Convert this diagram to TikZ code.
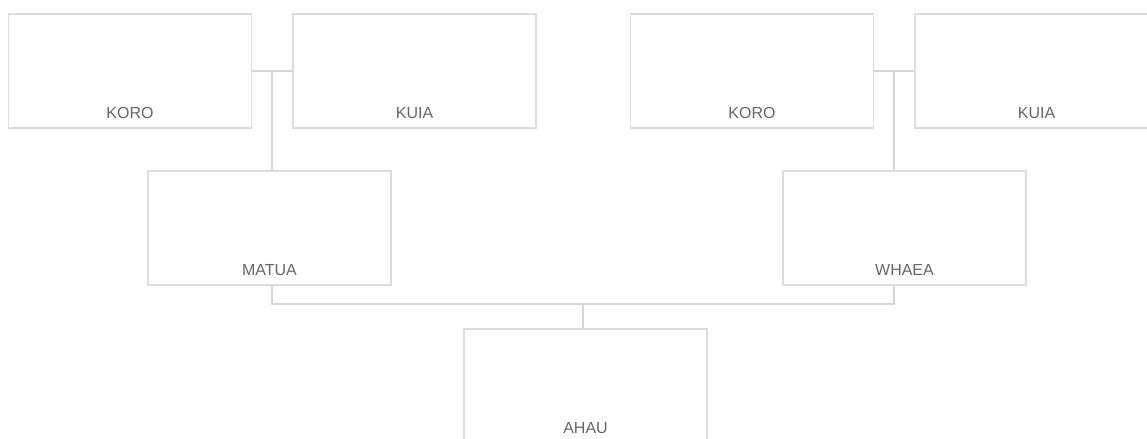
\documentclass[tikz,border=0pt]{standalone}
\usepackage{fontspec}
\setmainfont{Liberation Sans}
\usetikzlibrary{calc}
\definecolor{boxline}{HTML}{DCDCDC}
\definecolor{connline}{HTML}{D6D6D6}
\definecolor{labtext}{HTML}{666666}
\tikzset{
  person/.style={draw=boxline, line width=1.1pt, fill=white, minimum width=182.5pt, minimum height=85.5pt, inner sep=0pt},
  lab/.style={anchor=base, yshift=7.5pt, text=labtext, font=\fontsize{12pt}{14pt}\selectfont, inner sep=0pt},
  conn/.style={draw=connline, line width=1.5pt}
}
\begin{document}
\begin{tikzpicture}[x=0.75pt, y=-0.75pt]
\useasboundingbox (0,0) rectangle (1147,439);
\clip (0,0) rectangle (1147,439);
\fill[white] (0,0) rectangle (1147,439);
% grandparents
\node[person, label={[lab, name=t1]south:KORO}] (korol) at (130,71) {};
\node[person, label={[lab, name=t2]south:KUIA}] (kuial) at (414.5,71) {};
\node[person, label={[lab, name=t3]south:KORO}] (koror) at (752,71) {};
\node[person, label={[lab, name=t4]south:KUIA}] (kuiar) at (1036.5,71) {};
% parents
\node[person, label={[lab, name=t5]south:MATUA}] (matua) at (269.5,228) {};
\node[person, label={[lab, name=t6]south:WHAEA}] (whaea) at (904.5,228) {};
% self
\node[person, label={[lab, name=t7]south:AHAU}] (ahau) at (585.5,386) {};
% couple links
\draw[conn] (korol.east) -- (kuial.west);
\draw[conn] (koror.east) -- (kuiar.west);
\coordinate (pl) at ($(korol.east)!0.5!(kuial.west)$);
\coordinate (pr) at ($(koror.east)!0.5!(kuiar.west)$);
\draw[conn] (pl) -- (pl |- matua.north);
\draw[conn] (pr) -- (pr |- whaea.north);
% parents to child
\coordinate (barl) at (pl |- 0,304);
\coordinate (barr) at (pr |- 0,304);
\coordinate (barm) at ($(barl)!0.5!(barr)$);
\draw[conn] (pl |- matua.south) -- (barl) -- (barr) -- (pr |- whaea.south);
\draw[conn] (barm) -- (barm |- ahau.north);
\end{tikzpicture}
\end{document}
